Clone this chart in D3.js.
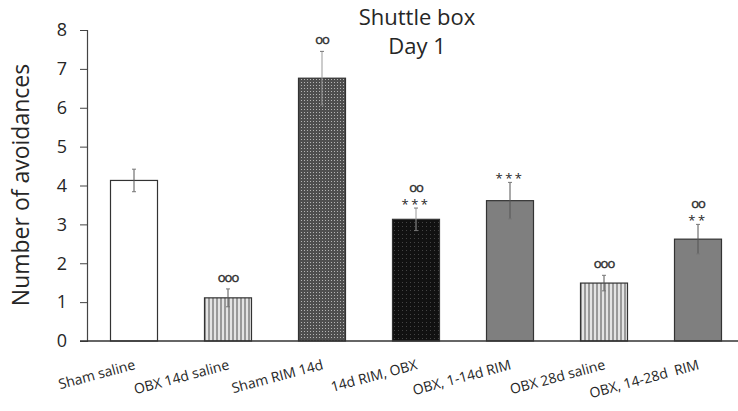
<!DOCTYPE html>
<html>
<head>
<meta charset="utf-8">
<script src="https://cdn.jsdelivr.net/npm/d3@7"></script>
<style>
  body { margin: 0; background: #fff; }
  text { font-family: "Open Sans", "Liberation Sans", sans-serif; fill: #262626; }
</style>
</head>
<body>
<div id="chart"></div>
<script>
var groups = ["Sham saline", "OBX 14d saline", "Sham RIM 14d", "14d RIM, OBX",
              "OBX, 1-14d RIM", "OBX 28d saline", "OBX, 14-28d  RIM"];
var means = [4.13, 1.11, 6.76, 3.13, 3.61, 1.49, 2.62];
var errs = [0.29, 0.23, 0.69, 0.29, 0.47, 0.2, 0.38];
var circles = ["", "ooo", "oo", "oo", "", "ooo", "oo"];
var stars = ["", "", "", "***", "***", "", "**"];
var fills = ["white", "url(#vstripe)", "url(#dots)", "url(#blackgrid)", "#7f7f7f", "url(#vstripe)", "#7f7f7f"];
var yTicks = [0, 1, 2, 3, 4, 5, 6, 7, 8];

var width = 738, height = 411;
var svg = d3.select("#chart").append("svg")
    .attr("width", width).attr("height", height);

// patterns for the hatched bars
var defs = svg.append("defs");
var vs = defs.append("pattern").attr("id", "vstripe")
    .attr("patternUnits", "userSpaceOnUse").attr("width", 4).attr("height", 4);
vs.append("rect").attr("width", 4).attr("height", 4).attr("fill", "#e4e4e4");
vs.append("rect").attr("width", 2).attr("height", 4).attr("fill", "#9a9a9a");

var dp = defs.append("pattern").attr("id", "dots")
    .attr("patternUnits", "userSpaceOnUse").attr("width", 3).attr("height", 3);
dp.append("rect").attr("width", 3).attr("height", 3).attr("fill", "#4e4e4e");
dp.append("rect").attr("width", 1).attr("height", 1).attr("x", 1).attr("y", 1).attr("fill", "#b4b4b4");

var bg = defs.append("pattern").attr("id", "blackgrid")
    .attr("patternUnits", "userSpaceOnUse").attr("width", 4).attr("height", 4);
bg.append("rect").attr("width", 4).attr("height", 4).attr("fill", "#111");
bg.append("rect").attr("width", 1).attr("height", 1).attr("x", 2).attr("y", 2).attr("fill", "#444");

var x = d3.scaleBand().domain(groups).range([87, 745]).paddingInner(0.5).paddingOuter(0.25);
var y = d3.scaleLinear().domain([0, 8]).range([341, 30]);

// y axis
var yAxis = d3.axisLeft(y).tickValues(yTicks).tickSize(7).tickPadding(13);
var ya = svg.append("g").attr("transform", "translate(87,0)").call(yAxis);
ya.attr("font-family", null);
ya.select(".domain").attr("stroke", "#444").attr("stroke-width", 1.2);
ya.selectAll(".tick line").attr("stroke", "#444");
ya.selectAll(".tick text").style("font-size", "18px").attr("fill", "#262626");

// bars
svg.selectAll(".bar").data(means).enter().append("rect")
    .attr("class", "bar")
    .attr("x", function(d, i) { return x(groups[i]); })
    .attr("width", x.bandwidth())
    .attr("y", function(d) { return y(d); })
    .attr("height", function(d) { return y(0) - y(d); })
    .attr("fill", function(d, i) { return fills[i]; })
    .attr("stroke", "#333").attr("stroke-width", 1.2);

// error bars
var cx = function(i) { return x(groups[i]) + x.bandwidth() / 2; };
var eb = svg.selectAll(".err").data(means).enter().append("g").attr("class", "err");
eb.append("line")
    .attr("x1", function(d, i) { return cx(i); })
    .attr("x2", function(d, i) { return cx(i); })
    .attr("y1", function(d, i) { return y(d + errs[i]); })
    .attr("y2", function(d, i) { return y(d - errs[i]); })
    .attr("stroke", function(d, i) { return i == 2 || i == 3 ? "#999" : "#555"; });
[1, -1].forEach(function(s) {
  eb.append("line")
    .attr("x1", function(d, i) { return cx(i) - 2; })
    .attr("x2", function(d, i) { return cx(i) + 2; })
    .attr("y1", function(d, i) { return y(d + s * errs[i]); })
    .attr("y2", function(d, i) { return y(d + s * errs[i]); })
    .attr("stroke", "#777");
});

// zero line
svg.append("line").attr("x1", 80).attr("x2", 738)
    .attr("y1", y(0)).attr("y2", y(0)).attr("stroke", "#333").attr("stroke-width", 1.4);

// significance marks
svg.selectAll(".stars").data(means).enter().append("text")
    .attr("x", function(d, i) { return cx(i); })
    .attr("y", function(d, i) { return y(d + errs[i]) + 1; })
    .attr("text-anchor", "middle")
    .style("font-size", "13px").attr("fill", "#444")
    .style("letter-spacing", "2.5px")
    .text(function(d, i) { return stars[i]; });
svg.selectAll(".circ").data(means).enter().append("text")
    .attr("x", function(d, i) { return cx(i); })
    .attr("y", function(d, i) { return y(d + errs[i]) - (stars[i] ? 16 : 7); })
    .attr("text-anchor", "middle")
    .style("font-size", "13px").attr("fill", "#333")
    .style("letter-spacing", "-1px")
    .style("stroke", "#333").style("stroke-width", 0.4)
    .text(function(d, i) { return circles[i]; });

// x labels
svg.selectAll(".xl").data(groups).enter().append("text")
    .attr("transform", function(d) {
      return "translate(" + (x(d) + x.bandwidth() / 2 + 2) + ",369) rotate(-15)";
    })
    .attr("text-anchor", "end")
    .style("font-size", "14px")
    .style("white-space", "pre")
    .text(function(d) { return d; });

// title
svg.append("text").attr("x", 417).attr("y", 25).attr("text-anchor", "middle")
    .style("font-size", "22px").text("Shuttle box");
svg.append("text").attr("x", 417).attr("y", 54).attr("text-anchor", "middle")
    .style("font-size", "22px").text("Day 1");

// y title
svg.append("text").attr("transform", "translate(29,185) rotate(-90)")
    .attr("text-anchor", "middle").style("font-size", "23px")
    .text("Number of avoidances");
</script>
</body>
</html>
